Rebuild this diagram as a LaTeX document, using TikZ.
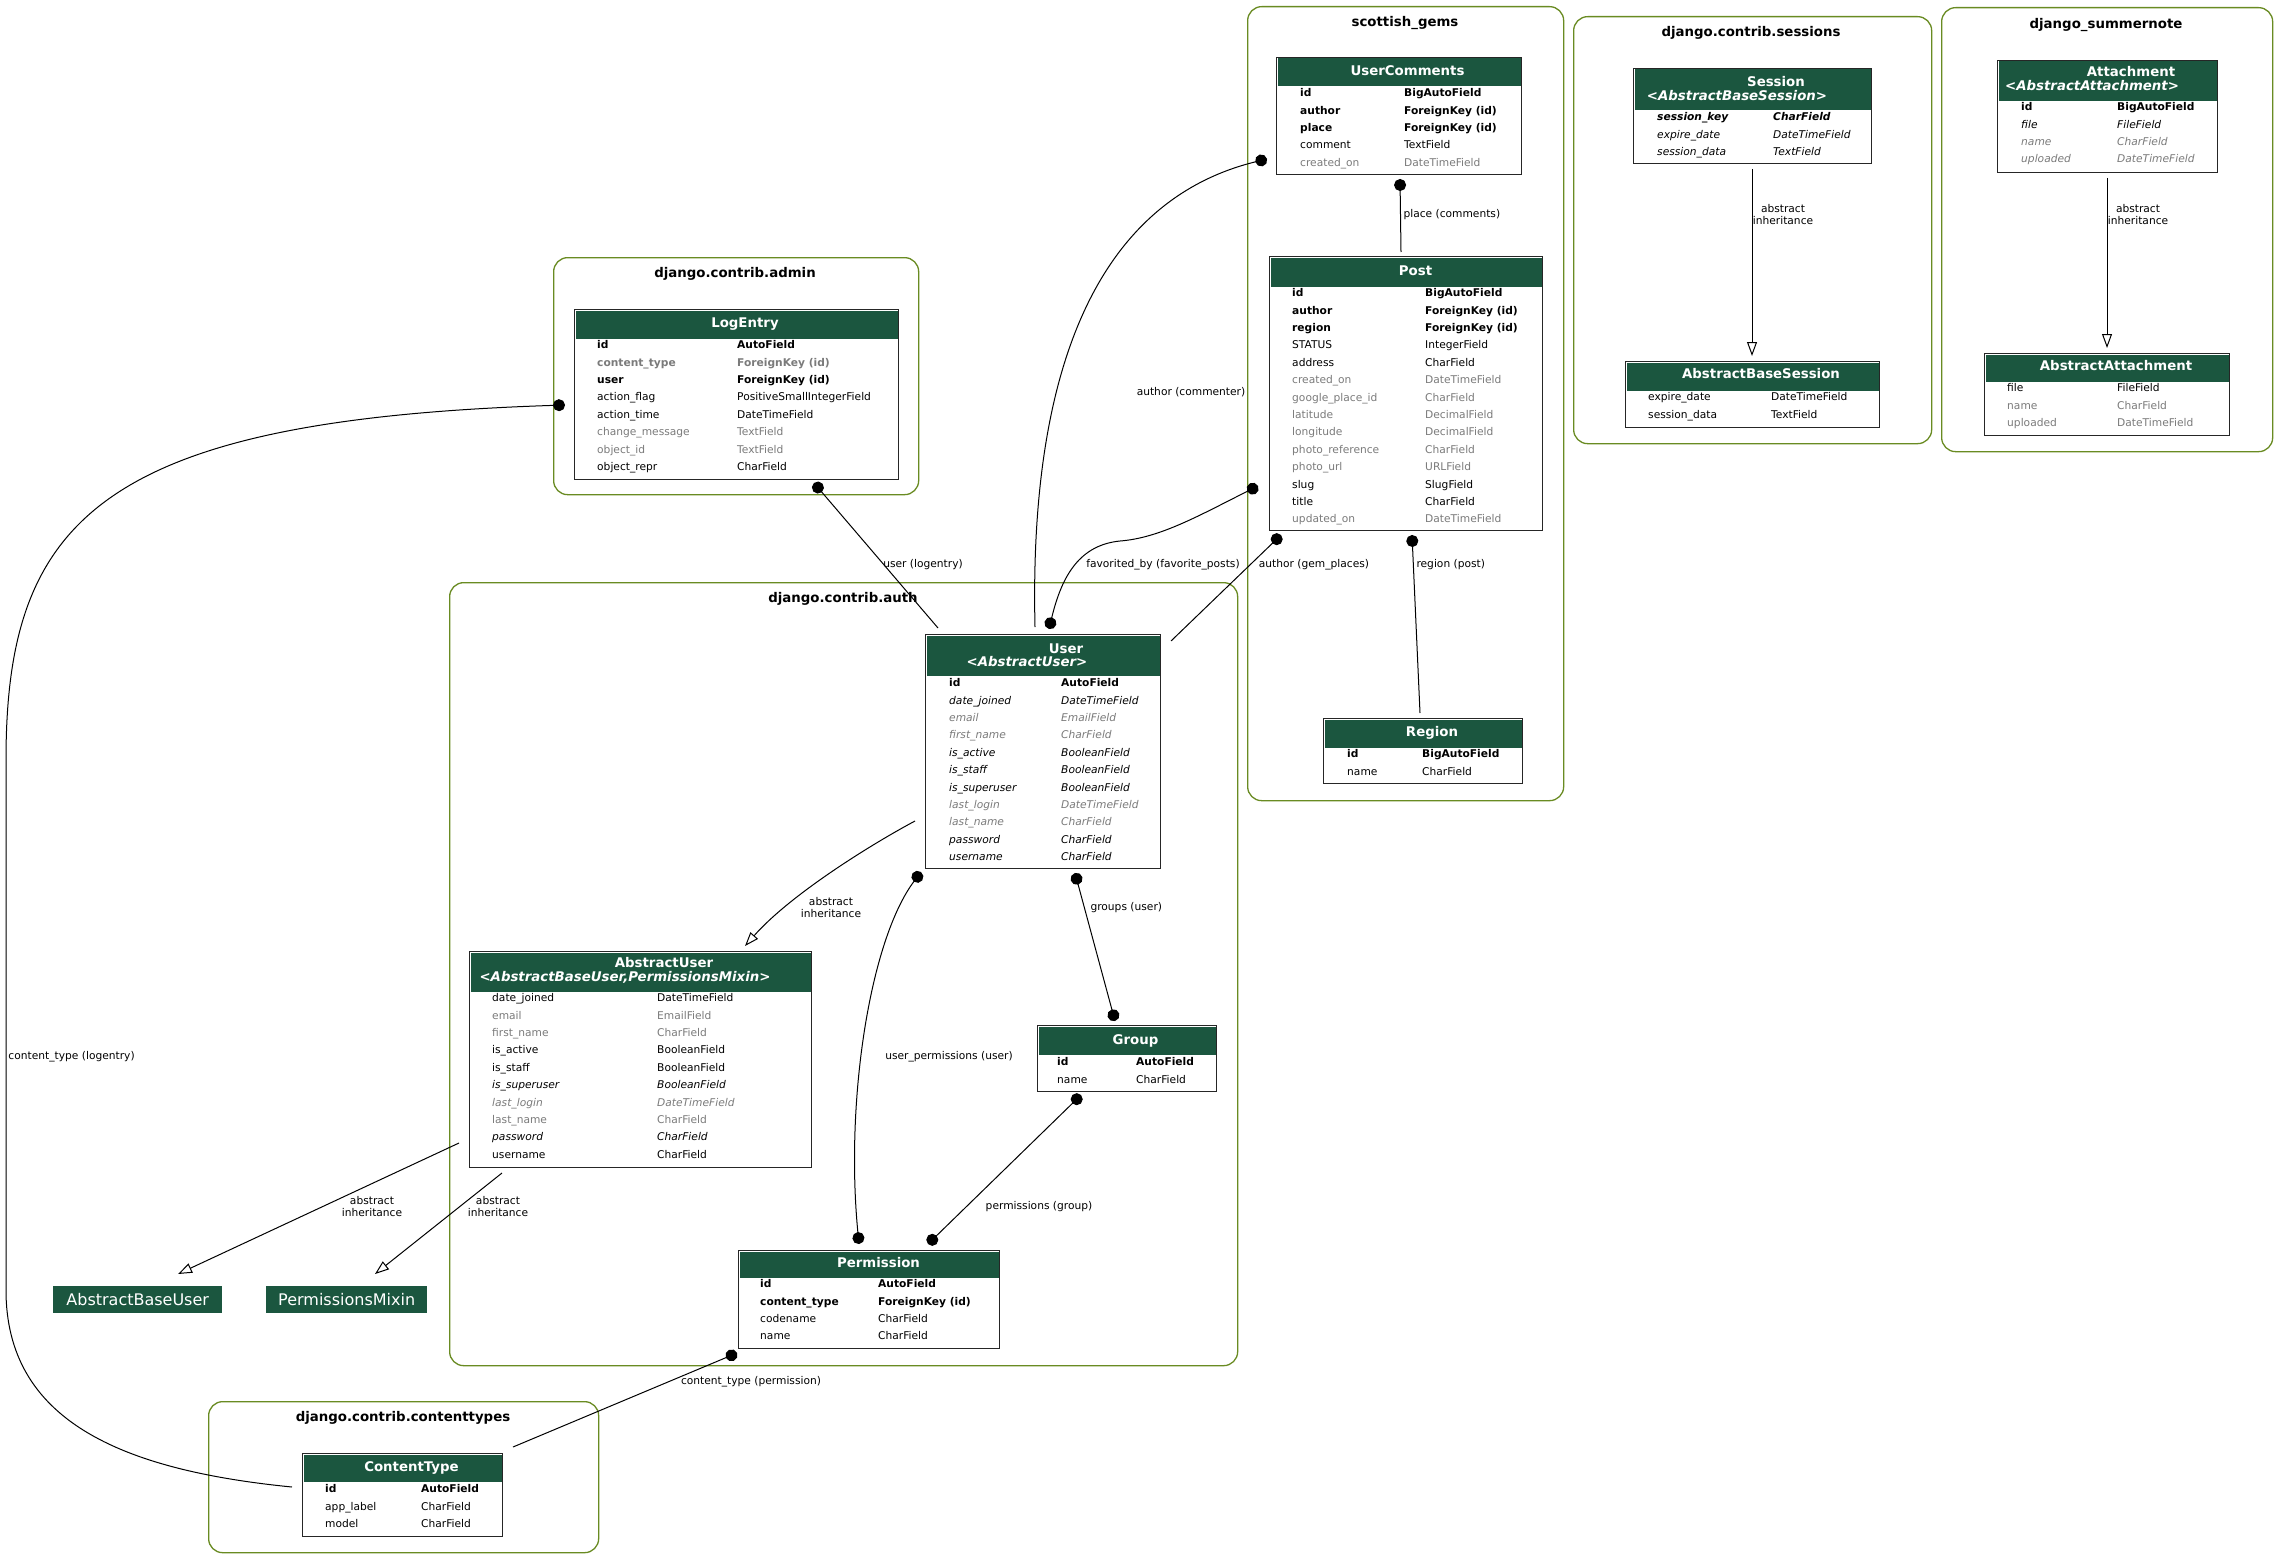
\documentclass[tikz,border=0pt]{standalone}
\usepackage{fontspec}
\setmainfont{DejaVu Sans}
\usepackage{tikz}
\usetikzlibrary{arrows.meta}
\definecolor{headgreen}{RGB}{27,86,63}
\definecolor{clusterolive}{RGB}{105,139,34}
\definecolor{optgray}{RGB}{123,123,123}
\newcommand\rowfont{\fontsize{10.67}{12}\selectfont}
\newcommand\titlefont{\fontsize{13.33}{15}\selectfont}
% field rows: model, name column, type column, first row centre, name/type/style
\newcommand\fieldrows[5]{%
  \foreach \fn/\ft/\fs [count=\i from 0] in {#5} {
    \node[field,\fs] (#1-n\i) at (#2,{#4+17.4*\i+3.7}) {\fn};
    \node[field,\fs] (#1-t\i) at (#3,{#4+17.4*\i+3.7}) {\ft};
  }}
% green title band of a model
\newcommand\modelhead[2]{%
  \fill[headgreen] ([shift={(1.5,1.5)}]#1.north west) rectangle ([shift={(-1.5,#2)}]#1.north east);}

\begin{document}
\begin{tikzpicture}[
    x=1pt, y=-1pt,
    cluster/.style={draw=clusterolive, line width=1.3pt, rounded corners=14pt, anchor=north west, inner sep=0pt},
    clabel/.style={font=\titlefont\bfseries, anchor=base, inner sep=0pt},
    model/.style={draw=black!85, line width=1.3pt, fill=white, anchor=north west, inner sep=0pt},
    mtitle/.style={text=white, font=\titlefont\bfseries, anchor=base, inner sep=0pt},
    mparent/.style={text=white, font=\titlefont\bfseries\itshape, anchor=base, inner sep=0pt},
    basebox/.style={fill=headgreen, text=white, font=\fontsize{16}{18}\selectfont, anchor=north west, inner sep=0pt, minimum height=27pt},
    field/.style={anchor=base west, inner sep=0pt, font=\rowfont},
    std/.style={},
    pk/.style={font=\rowfont\bfseries},
    opt/.style={text=optgray},
    inh/.style={font=\rowfont\itshape},
    pkinh/.style={font=\rowfont\bfseries\itshape},
    optinh/.style={text=optgray, font=\rowfont\itshape},
    optpk/.style={text=optgray, font=\rowfont\bfseries},
    elabel/.style={font=\rowfont, inner sep=1pt, align=center},
    fk/.style={draw=black, line width=1pt, -{Circle[length=12pt]}},
    mm/.style={draw=black, line width=1pt, {Circle[length=12pt]}-{Circle[length=12pt]}},
    inherit/.style={draw=black, line width=1pt, -{Triangle[open, length=14pt, width=10pt]}},
  ]
  \fill[white] (0,0) rectangle (2277,1557);
  \useasboundingbox (0,0) rectangle (2277,1557);

  % app clusters
  \node[cluster, minimum width=316pt, minimum height=794pt] (c-gems) at (1247,6) {};
  \node[clabel] (c-gems-l) at (1405,26.7) {scottish\_gems};
  \node[cluster, minimum width=358pt, minimum height=427pt] (c-sessions) at (1573,16) {};
  \node[clabel] (c-sessions-l) at (1751,36.7) {django.contrib.sessions};
  \node[cluster, minimum width=331pt, minimum height=444pt] (c-summernote) at (1941,7) {};
  \node[clabel] (c-summernote-l) at (2106,28.7) {django\_summernote};
  \node[cluster, minimum width=365pt, minimum height=237pt] (c-admin) at (553,257) {};
  \node[clabel] (c-admin-l) at (735,277.7) {django.contrib.admin};
  \node[cluster, minimum width=788pt, minimum height=783pt] (c-auth) at (449,582) {};
  \node[clabel] (c-auth-l) at (843,602.7) {django.contrib.auth};
  \node[cluster, minimum width=390pt, minimum height=151pt] (c-ctypes) at (208,1401) {};
  \node[clabel] (c-ctypes-l) at (403,1421.7) {django.contrib.contenttypes};

  % scottish_gems
  \node[model, minimum width=245pt, minimum height=117pt] (usercomments) at (1276,57) {};
  \modelhead{usercomments}{29}
  \node[mtitle] (usercomments-title) at (1407.5,75.4) {UserComments};
  \fieldrows{usercomments}{1300}{1404}{93}{id/BigAutoField/pk, author/ForeignKey (id)/pk, place/ForeignKey (id)/pk, comment/TextField/std, created\_on/DateTimeField/opt}

  \node[model, minimum width=273pt, minimum height=274pt] (post) at (1269,256) {};
  \modelhead{post}{31}
  \node[mtitle] (post-title) at (1415.5,275.7) {Post};
  \fieldrows{post}{1292}{1425}{293}{id/BigAutoField/pk, author/ForeignKey (id)/pk, region/ForeignKey (id)/pk, STATUS/IntegerField/std, address/CharField/std, created\_on/DateTimeField/opt, google\_place\_id/CharField/opt, latitude/DecimalField/opt, longitude/DecimalField/opt, photo\_reference/CharField/opt, photo\_url/URLField/opt, slug/SlugField/std, title/CharField/std, updated\_on/DateTimeField/opt}

  \node[model, minimum width=199pt, minimum height=65pt] (region) at (1323,718) {};
  \modelhead{region}{30}
  \node[mtitle] (region-title) at (1432,736.7) {Region};
  \fieldrows{region}{1347}{1422}{754}{id/BigAutoField/pk, name/CharField/std}

  % django.contrib.sessions
  \node[model, minimum width=238pt, minimum height=95pt] (session) at (1633,68) {};
  \modelhead{session}{42}
  \node[mtitle] (session-title) at (1776,86.7) {Session};
  \node[mparent] (session-parent) at (1737,100.7) {<AbstractBaseSession>};
  \fieldrows{session}{1657}{1773}{117}{session\_key/CharField/pkinh, expire\_date/DateTimeField/inh, session\_data/TextField/inh}

  \node[model, minimum width=254pt, minimum height=66pt] (abstractbasesession) at (1625,361) {};
  \modelhead{abstractbasesession}{30}
  \node[mtitle] (abstractbasesession-title) at (1761,378.7) {AbstractBaseSession};
  \fieldrows{abstractbasesession}{1648}{1771}{397}{expire\_date/DateTimeField/std, session\_data/TextField/std}

  % django_summernote
  \node[model, minimum width=220pt, minimum height=112pt] (attachment) at (1997,60) {};
  \modelhead{attachment}{41}
  \node[mtitle] (attachment-title) at (2131,76.7) {Attachment};
  \node[mparent] (attachment-parent) at (2092,90.7) {<AbstractAttachment>};
  \fieldrows{attachment}{2021}{2117}{107}{id/BigAutoField/pk, file/FileField/inh, name/CharField/optinh, uploaded/DateTimeField/optinh}

  \node[model, minimum width=245pt, minimum height=82pt] (abstractattachment) at (1984,353) {};
  \modelhead{abstractattachment}{29}
  \node[mtitle] (abstractattachment-title) at (2116,370.7) {AbstractAttachment};
  \fieldrows{abstractattachment}{2007}{2117}{388}{file/FileField/std, name/CharField/opt, uploaded/DateTimeField/opt}

  % django.contrib.admin
  \node[model, minimum width=324pt, minimum height=170pt] (logentry) at (574,309) {};
  \modelhead{logentry}{30}
  \node[mtitle] (logentry-title) at (745,327.7) {LogEntry};
  \fieldrows{logentry}{597}{737}{345}{id/AutoField/pk, content\_type/ForeignKey (id)/optpk, user/ForeignKey (id)/pk, action\_flag/PositiveSmallIntegerField/std, action\_time/DateTimeField/std, change\_message/TextField/opt, object\_id/TextField/opt, object\_repr/CharField/std}

  % django.contrib.auth
  \node[model, minimum width=235pt, minimum height=234pt] (user) at (925,634) {};
  \modelhead{user}{42}
  \node[mtitle] (user-title) at (1066,653.7) {User};
  \node[mparent] (user-parent) at (1027,666.7) {<AbstractUser>};
  \fieldrows{user}{949}{1061}{683}{id/AutoField/pk, date\_joined/DateTimeField/inh, email/EmailField/optinh, first\_name/CharField/optinh, is\_active/BooleanField/inh, is\_staff/BooleanField/inh, is\_superuser/BooleanField/inh, last\_login/DateTimeField/optinh, last\_name/CharField/optinh, password/CharField/inh, username/CharField/inh}

  \node[model, minimum width=342pt, minimum height=216pt] (abstractuser) at (469,951) {};
  \modelhead{abstractuser}{41}
  \node[mtitle] (abstractuser-title) at (664,967.7) {AbstractUser};
  \node[mparent] (abstractuser-parent) at (625,981.7) {<AbstractBaseUser,PermissionsMixin>};
  \fieldrows{abstractuser}{492}{657}{998}{date\_joined/DateTimeField/std, email/EmailField/opt, first\_name/CharField/opt, is\_active/BooleanField/std, is\_staff/BooleanField/std, is\_superuser/BooleanField/inh, last\_login/DateTimeField/optinh, last\_name/CharField/opt, password/CharField/inh, username/CharField/std}

  \node[model, minimum width=179pt, minimum height=66pt] (group) at (1037,1025) {};
  \modelhead{group}{30}
  \node[mtitle] (group-title) at (1135.5,1044.7) {Group};
  \fieldrows{group}{1057}{1136}{1062}{id/AutoField/pk, name/CharField/std}

  \node[model, minimum width=261pt, minimum height=98pt] (permission) at (738,1250) {};
  \modelhead{permission}{28}
  \node[mtitle] (permission-title) at (878.5,1267.7) {Permission};
  \fieldrows{permission}{760}{878}{1284}{id/AutoField/pk, content\_type/ForeignKey (id)/pk, codename/CharField/std, name/CharField/std}

  \node[basebox, minimum width=169pt] (abstractbaseuser) at (53,1286) {AbstractBaseUser};
  \node[basebox, minimum width=161pt] (permissionsmixin) at (266,1286) {PermissionsMixin};

  % django.contrib.contenttypes
  \node[model, minimum width=200pt, minimum height=83pt] (contenttype) at (302,1453) {};
  \modelhead{contenttype}{29}
  \node[mtitle] (contenttype-title) at (411.5,1471.7) {ContentType};
  \fieldrows{contenttype}{325}{421}{1489}{id/AutoField/pk, app\_label/CharField/std, model/CharField/std}

  % relations
  \draw[fk] ([shift={(110,-7)}]user.north west) .. controls (1028,330) and (1120,195) .. ([shift={(-9,102)}]usercomments.north west)
    node[elabel] at (1191,392) {author (commenter)};
  \draw[fk] ([shift={(132,-4)}]post.north west) -- ([shift={(124,122)}]usercomments.north west)
    node[elabel, anchor=west] at (1402,215) {place (comments)};
  \draw[mm] ([shift={(124,-5)}]user.north west) .. controls (1062,575) and (1080,545) .. (1120,541)
    .. controls (1160,538) and (1200,515) .. ([shift={(-11,230)}]post.north west)
    node[elabel] at (1163,565) {favorited\_by (favorite\_posts)};
  \draw[fk] ([shift={(246,7)}]user.north west) -- ([shift={(12,279)}]post.north west)
    node[elabel] at (1314,565) {author (gem\_places)};
  \draw[fk] ([shift={(97,-5)}]region.north west) -- ([shift={(143,279)}]post.north west)
    node[elabel, anchor=west] at (1415,565) {region (post)};
  \draw[fk] ([shift={(13,-6)}]user.north west) -- ([shift={(240,174)}]logentry.north west)
    node[elabel] at (923,565) {user (logentry)};
  \draw[fk] ([shift={(-10,34)}]contenttype.north west) .. controls (120,1470) and (6,1420) .. (6,1290)
    -- (6,760) .. controls (6,520) and (100,420) .. ([shift={(-9,96)}]logentry.north west)
    node[elabel, anchor=west] at (7,1057) {content\_type (logentry)};
  \draw[mm] ([shift={(-4,238)}]user.north west) .. controls (870,940) and (845,1100) .. ([shift={(121,-6)}]permission.north west)
    node[elabel] at (949,1057) {user\_permissions (user)};
  \draw[mm] ([shift={(150,239)}]user.north west) -- ([shift={(78,-4)}]group.north west)
    node[elabel, anchor=west] at (1089,908) {groups (user)};
  \draw[mm] ([shift={(44,70)}]group.north west) -- ([shift={(190,-6)}]permission.north west)
    node[elabel] at (1039,1207) {permissions (group)};
  \draw[fk] ([shift={(211,-6)}]contenttype.north west) -- ([shift={(-1,103)}]permission.north west)
    node[elabel] at (751,1382) {content\_type (permission)};

  % inheritance
  \draw[inherit] ([shift={(-10,187)}]user.north west) .. controls (870,845) and (790,895) .. ([shift={(276,-5)}]abstractuser.north west)
    node[elabel] at (831,908) {abstract\\inheritance};
  \draw[inherit] ([shift={(-10,192)}]abstractuser.north west) -- ([shift={(125,-12)}]abstractbaseuser.north west)
    node[elabel] at (372,1207) {abstract\\inheritance};
  \draw[inherit] ([shift={(33,222)}]abstractuser.north west) -- ([shift={(109,-12)}]permissionsmixin.north west)
    node[elabel] at (498,1207) {abstract\\inheritance};
  \draw[inherit] ([shift={(119,101)}]session.north west) -- ([shift={(127,-5)}]abstractbasesession.north west)
    node[elabel] at (1783,215) {abstract\\inheritance};
  \draw[inherit] ([shift={(110,118)}]attachment.north west) -- ([shift={(123,-5)}]abstractattachment.north west)
    node[elabel] at (2138,215) {abstract\\inheritance};
\end{tikzpicture}
\end{document}
